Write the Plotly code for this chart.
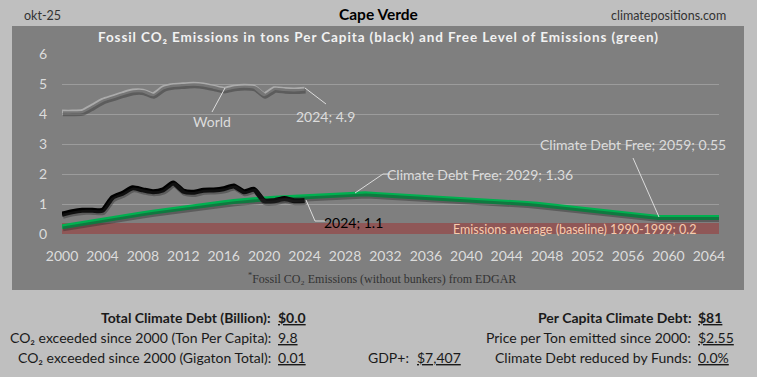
import plotly.graph_objects as go

# ---------------- data ----------------
years_hist = list(range(2000, 2025))
years_all = list(range(2000, 2066))

cape_verde = [0.66, 0.74, 0.79, 0.79, 0.79, 1.22, 1.36, 1.54, 1.47, 1.41, 1.47, 1.70, 1.43,
              1.39, 1.46, 1.47, 1.51, 1.60, 1.41, 1.49, 1.11, 1.11, 1.18, 1.11, 1.12]
world = [4.08, 4.08, 4.10, 4.28, 4.47, 4.58, 4.69, 4.78, 4.78, 4.66, 4.89, 4.97, 4.99,
         5.01, 4.98, 4.91, 4.84, 4.91, 4.94, 4.91, 4.66, 4.86, 4.83, 4.82, 4.84]
free_level = [0.24, 0.30, 0.35, 0.41, 0.46, 0.52, 0.57, 0.63, 0.68, 0.73, 0.78, 0.83, 0.88,
              0.93, 0.97, 1.01, 1.04, 1.08, 1.12, 1.15, 1.17, 1.19, 1.21, 1.23, 1.25, 1.27,
              1.29, 1.31, 1.34, 1.36, 1.34, 1.32, 1.30, 1.28, 1.26, 1.25, 1.23, 1.21, 1.20,
              1.18, 1.16, 1.15, 1.13, 1.12, 1.10, 1.06, 1.02, 0.99, 0.95, 0.91, 0.88, 0.84,
              0.80, 0.77, 0.73, 0.69, 0.66, 0.62, 0.58, 0.55, 0.55, 0.55, 0.55, 0.55, 0.55, 0.55]
band_years = [2000, 2065]
band_values = [0.37, 0.37]

y_ticks = [0, 1, 2, 3, 4, 5, 6]

# ---------------- layout helpers ----------------
W, H = 757, 377
L, R, T, B = 62, 719, 54, 234   # plot area in pixels


def px(x):
    return (x - L) / (R - L)


def py(y):
    return (B - y) / (B - T)


SANS = "Lato, Carlito, Calibri, sans-serif"
LABEL_C = "#dcdcdc"

fig = go.Figure()

# baseline band
fig.add_trace(go.Scatter(x=band_years, y=band_values, mode="lines", fill="tozeroy",
                         line=dict(width=0), fillcolor="rgba(165,40,40,0.45)",
                         hoverinfo="skip", showlegend=False))

# shadows (drawn on shifted overlay axes)
for xs, ys, w, shape in [(years_hist, world, 5, "spline"),
                         (years_all, free_level, 5, "linear"),
                         (years_hist, cape_verde, 5, "spline")]:
    fig.add_trace(go.Scatter(x=xs, y=ys, mode="lines", xaxis="x2", yaxis="y2",
                             line=dict(color="rgba(40,40,40,0.4)", width=w, shape=shape,
                                       smoothing=0.6),
                             hoverinfo="skip", showlegend=False))

fig.add_trace(go.Scatter(x=years_hist, y=world, mode="lines",
                         line=dict(color="#ababab", width=4, shape="spline", smoothing=0.6),
                         showlegend=False))
fig.add_trace(go.Scatter(x=years_all, y=free_level, mode="lines",
                         line=dict(color="#00b050", width=5),
                         showlegend=False))
fig.add_trace(go.Scatter(x=years_hist, y=cape_verde, mode="lines",
                         line=dict(color="#000000", width=5, shape="spline", smoothing=0.6),
                         showlegend=False))

shapes = [
    # dark panel
    dict(type="rect", xref="paper", yref="paper", x0=px(12), x1=px(744), y0=py(290), y1=py(26),
         fillcolor="#7f7f7f", line=dict(width=0), layer="below"),
]


def seg(points, color=LABEL_C):
    for (x0, y0), (x1, y1) in zip(points[:-1], points[1:]):
        shapes.append(dict(type="line", xref="paper", yref="paper",
                           x0=px(x0), y0=py(y0), x1=px(x1), y1=py(y1),
                           line=dict(color=color, width=1)))


seg([(225, 88), (212, 112)])             # World
seg([(305, 88), (326, 104)])             # 2024; 4.9
seg([(306, 200), (315, 221), (325, 221)])  # 2024; 1.1
seg([(355, 193), (383, 174), (390, 174)])  # 2029
seg([(633, 158), (659, 217)])            # 2059

annotations = []


def ann(text, x, y, size=14, color=LABEL_C, anchor="center", family=SANS):
    annotations.append(dict(text=text, x=px(x), y=py(y), xref="paper", yref="paper",
                            showarrow=False, xanchor=anchor, yanchor="middle",
                            font=dict(size=size, color=color, family=family)))


ann("World", 212, 121)
ann(f"{years_hist[-1]}; 4.9", 325, 116)
ann(f"{years_hist[-1]}; 1.1", 353, 222, color="#000000")
ann("Climate Debt Free; 2029; 1.36", 480, 174)
ann("Climate Debt Free; 2059; 0.55", 633, 144)
ann("Emissions average (baseline) 1990-1999; 0.2", 575, 229, size=12.5, color="#f8cbad")

# header
ann("okt-25", 42, 15, size=12.5, color="#333333")
ann("<b>Cape Verde</b>", 378, 14, size=15.5, color="#000000")
ann("climatepositions.com", 728, 15, size=12.5, color="#333333", anchor="right")
ann('<span style="letter-spacing:0.9px"><b>Fossil CO₂ Emissions in tons Per Capita (black) '
    'and Free Level of Emissions (green)</b></span>',
    378, 37, size=13.5, color="#f2f2f2")
ann("<sup>*</sup>Fossil CO₂ Emissions (without bunkers) from EDGAR", 382, 278, size=12,
    color="#333333", family="Liberation Serif, serif")

# bottom stats
BC = "#1a1a1a"
FS = 14
ann("<b>Total Climate Debt (Billion):</b>", 273, 317, size=FS, color=BC, anchor="right")
ann("<b><u>$0.0</u></b>", 276, 317, size=FS, color=BC, anchor="left")
ann("CO₂ exceeded since 2000 (Ton Per Capita):", 273, 337, size=FS, color=BC, anchor="right")
ann("<u>9.8</u>", 276, 337, size=FS, color=BC, anchor="left")
ann("CO₂ exceeded since 2000 (Gigaton Total):", 273, 357, size=FS, color=BC, anchor="right")
ann("<u>0.01</u>", 276, 357, size=FS, color=BC, anchor="left")
ann("GDP+:", 411, 357, size=FS, color=BC, anchor="right")
ann("<u>$7,407</u>", 415, 357, size=FS, color=BC, anchor="left")
ann("<b>Per Capita Climate Debt:</b>", 693, 317, size=FS, color=BC, anchor="right")
ann("<b><u>$81</u></b>", 696, 317, size=FS, color=BC, anchor="left")
ann("Price per Ton emitted since 2000:", 693, 337, size=FS, color=BC, anchor="right")
ann("<u>$2.55</u>", 696, 337, size=FS, color=BC, anchor="left")
ann("Climate Debt reduced by Funds:", 693, 357, size=FS, color=BC, anchor="right")
ann("<u>0.0%</u>", 696, 357, size=FS, color=BC, anchor="left")

fig.update_layout(
    width=W, height=H,
    margin=dict(l=L, r=W - R, t=T, b=H - B, pad=0),
    paper_bgcolor="#bfbfbf", plot_bgcolor="rgba(0,0,0,0)",
    shapes=shapes, annotations=annotations,
    xaxis=dict(range=[2000, 2065], tick0=2000, dtick=4, showgrid=False, zeroline=False,
               showline=False, ticks="", ticklabelstandoff=12,
               tickfont=dict(size=14, color=LABEL_C, family=SANS)),
    yaxis=dict(range=[0, 6], tickvals=y_ticks, showgrid=True, gridcolor="#9c9c9c",
               gridwidth=1, zeroline=False, showline=False, ticks="", ticklabelstandoff=14,
               tickfont=dict(size=14, color=LABEL_C, family=SANS)),
    xaxis2=dict(range=[2000 - 0.1, 2065 - 0.1], overlaying="x", visible=False),
    yaxis2=dict(range=[0.07, 6.07], overlaying="y", visible=False),
)

fig.write_html("out.html", config={"displayModeBar": False},
               post_script="document.body.style.margin='0';")
